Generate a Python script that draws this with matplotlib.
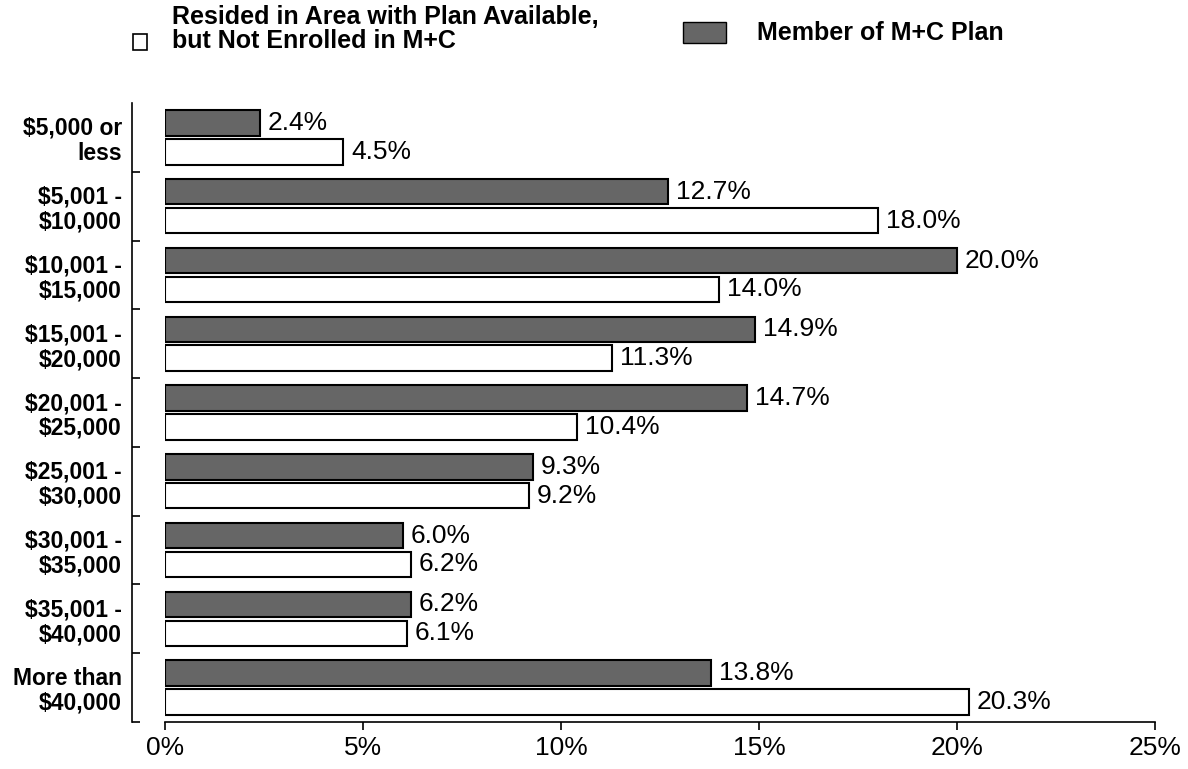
import numpy as np
import matplotlib
matplotlib.use("Agg")
import matplotlib.pyplot as plt
from matplotlib.patches import Rectangle

plt.rcParams['font.family'] = ['Liberation Sans', 'DejaVu Sans']

# income brackets, top to bottom
categories = ["\\$5,000 or\nless", "\\$5,001 -\n\\$10,000", "\\$10,001 -\n\\$15,000",
              "\\$15,001 -\n\\$20,000", "\\$20,001 -\n\\$25,000", "\\$25,001 -\n\\$30,000",
              "\\$30,001 -\n\\$35,000", "\\$35,001 -\n\\$40,000", "More than\n\\$40,000"]
member = [2.4, 12.7, 20.0, 14.9, 14.7, 9.3, 6.0, 6.2, 13.8]
not_enrolled = [4.5, 18.0, 14.0, 11.3, 10.4, 9.2, 6.2, 6.1, 20.3]
xticks = [0, 5, 10, 15, 20, 25]

W, H = 1188, 769
fig = plt.figure(figsize=(W / 100, H / 100), dpi=100)
ax = fig.add_axes([165 / W, 1 - 722 / H, (1155 - 165) / W, (722 - 103) / H])

y = np.arange(len(categories))
dark = '#666666'
ax.barh(y - 0.21, member, height=0.37, color=dark, edgecolor='black', linewidth=1.5)
ax.barh(y + 0.21, not_enrolled, height=0.37, color='white', edgecolor='black', linewidth=1.5)

for yi, v in zip(y, member):
    ax.text(v + 0.2, yi - 0.21, f"{v:.1f}%", va='center', ha='left', fontsize=19)
for yi, v in zip(y, not_enrolled):
    ax.text(v + 0.2, yi + 0.21, f"{v:.1f}%", va='center', ha='left', fontsize=19)

ax.set_xlim(0, 25)
ax.set_ylim(len(categories) - 0.5, -0.5)

ax.spines['top'].set_visible(False)
ax.spines['right'].set_visible(False)
ax.spines['left'].set_position(('outward', 24))
ax.spines['left'].set_linewidth(1.2)
ax.spines['bottom'].set_linewidth(1.2)

ax.set_xticks(xticks)
ax.set_xticklabels([f"{v}%" for v in xticks])
ax.tick_params(axis='x', direction='out', length=6, width=1.2, labelsize=19, pad=4)

ax.set_yticks(y)
ax.set_yticklabels(categories, fontweight='bold', fontsize=16.5, linespacing=1.1)
ax.tick_params(axis='y', length=0, pad=7)
ax.set_yticks(np.arange(0.5, len(categories), 1.0), minor=True)
ax.tick_params(axis='y', which='minor', direction='in', length=6, width=1.2)

# legend drawn by hand to match the original layout
fig.patches.append(Rectangle((133 / W, 1 - 50 / H), 14 / W, 16 / H, transform=fig.transFigure,
                             facecolor='white', edgecolor='black', linewidth=1.2))
fig.text(172 / W, 1 - 29 / H, "Resided in Area with Plan Available,\nbut Not Enrolled in M+C",
         fontsize=18, fontweight='bold', va='center', ha='left', linespacing=1.0)
fig.patches.append(Rectangle((683 / W, 1 - 43 / H), 43 / W, 21 / H, transform=fig.transFigure,
                             facecolor=dark, edgecolor='black', linewidth=1.0))
fig.text(757 / W, 1 - 33 / H, "Member of M+C Plan",
         fontsize=18, fontweight='bold', va='center', ha='left')

fig.savefig("out.png", dpi=100)
